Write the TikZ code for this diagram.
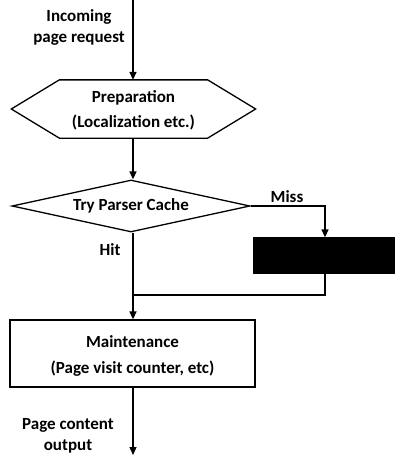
\documentclass[tikz,border=0pt]{standalone}
\usepackage{fontspec}
\setmainfont{Carlito}
\usetikzlibrary{arrows.meta,shapes.geometric}

\begin{document}
\begin{tikzpicture}[x=1pt,y=-1pt,
					>={Triangle[width=7pt,length=8pt]},
					line width=1.3pt,
					font=\fontsize{17}{21}\selectfont\bfseries,
					hexa node/.style={minimum width=243pt,minimum height=57pt,inner sep=0pt},
					test node/.style={diamond,draw,aspect=4.5,minimum width=238pt,minimum height=52pt,inner sep=0pt},
					box node/.style={rectangle,draw,minimum width=245pt,minimum height=67pt,align=center},
					dark node/.style={rectangle,fill=black,draw=black,minimum width=142pt,minimum height=35pt},
					label node/.style={align=center,inner sep=0pt}]

  \useasboundingbox (0,0) rectangle (394,455);

  \coordinate (in) at (133,0);
  \coordinate (out) at (133,455);
  \coordinate (join) at (133,295);

  \node[hexa node] (prep) at (133.5,109) {};
  \node (prep1) at (133.5,98) {Preparation};
  \node (prep2) at (133.5,122) {(Localization etc.)};
  \draw (prep.west) -- ([xshift=48pt]prep.north west) -- ([xshift=-48pt]prep.north east)
    -- (prep.east) -- ([xshift=-48pt]prep.south east) -- ([xshift=48pt]prep.south west) -- cycle;

  \node[test node] (try) at (131,206) {Try Parser Cache};
  \node[dark node] (cache) at (325,255.5) {};
  \node[box node] (maint) at (132.5,353.5) {};
  \node (maint1) at (132.5,342) {Maintenance};
  \node (maint2) at (132.5,369) {(Page visit counter, etc)};

  \node[label node] at (79,27) {Incoming\\page request};
  \node[label node] at (68,436) {Page content\\output};
  \node at (287,197) {Miss};
  \node at (110,250) {Hit};

  \draw[->] (in) -- (prep.north -| in);
  \draw[->] (prep.south -| in) -- (try.north -| in);
  \draw[->] (try.east) -| (cache.north);
  \draw (cache.south) |- (join);
  \draw[->] (try.south -| in) -- (maint.north -| in);
  \draw[->] (maint.south -| in) -- (out);
\end{tikzpicture}
\end{document}
